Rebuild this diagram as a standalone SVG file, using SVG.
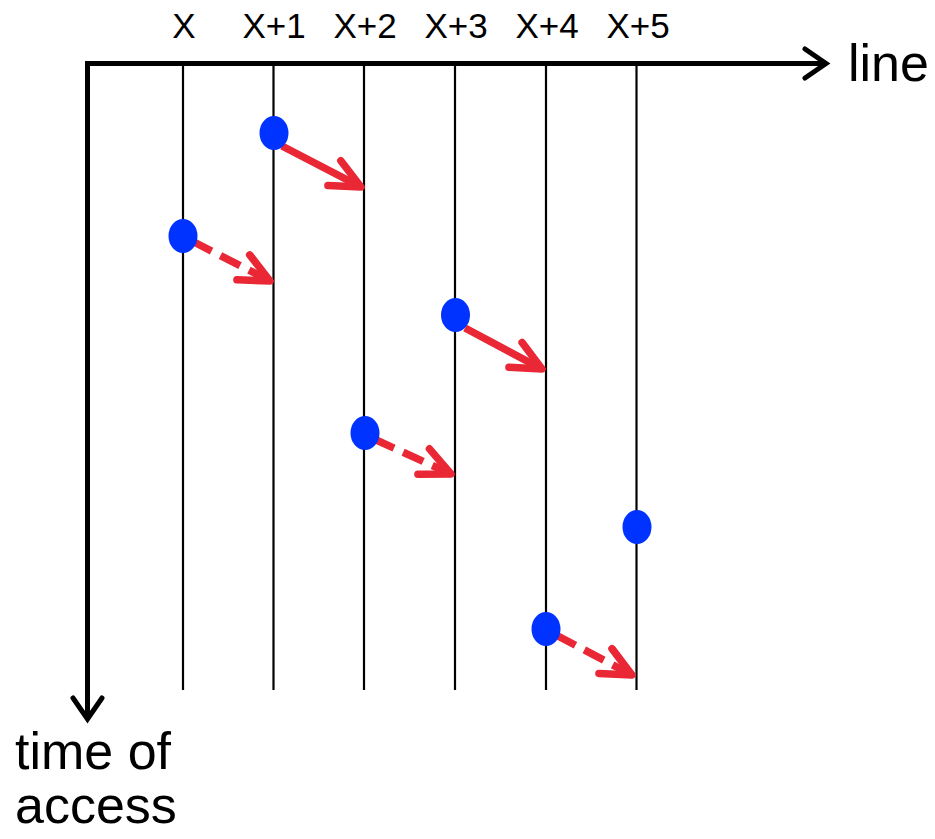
<svg xmlns="http://www.w3.org/2000/svg" width="935" height="839" viewBox="0 0 935 839">
  <style>
    .lbl { font-family: "Liberation Sans", Arial, sans-serif; fill: #000; }
    .col { font-size: 35px; text-anchor: middle; }
    .big { font-size: 52px; }
    .grid { stroke: #000; stroke-width: 2.2; fill: none; }
    .axis { stroke: #000; stroke-width: 5; fill: none; }
    .dot { fill: #0033ff; }
    .arr { stroke: #e92735; stroke-width: 7.5; fill: none; marker-end: url(#redhead); }
    .dash { stroke-dasharray: 22 10; }
  </style>
  <defs>
    <marker id="redhead" markerUnits="userSpaceOnUse" refX="0" refY="0" markerWidth="60" markerHeight="60" orient="auto" overflow="visible">
      <path d="M-30,-14 L0,0 L-30,14" fill="none" stroke="#e92735" stroke-width="7.5" stroke-linecap="round" stroke-linejoin="round" stroke-dasharray="none"/>
    </marker>
    <marker id="axhead" markerUnits="userSpaceOnUse" refX="0" refY="0" markerWidth="60" markerHeight="60" orient="auto" overflow="visible">
      <path d="M-21,-14.5 L0,0 L-21,14.5" fill="none" stroke="#000" stroke-width="5" stroke-linecap="round" stroke-linejoin="miter" stroke-dasharray="none"/>
    </marker>
  </defs>

  <g id="axes">
    <line class="axis" x1="85" y1="63.5" x2="826" y2="63.5" marker-end="url(#axhead)"/>
    <line class="axis" x1="87.5" y1="61" x2="87.5" y2="719" marker-end="url(#axhead)"/>
    <text class="lbl big" x="848" y="81">line</text>
    <text class="lbl big" x="15" y="769">time of</text>
    <text class="lbl big" x="15" y="823">access</text>
  </g>

  <g id="col-X"><line class="grid" x1="183" y1="64" x2="183" y2="690"/><text class="lbl col" x="184" y="38">X</text></g>
  <g id="col-X1"><line class="grid" x1="273.5" y1="64" x2="273.5" y2="690"/><text class="lbl col" x="274" y="38">X+1</text></g>
  <g id="col-X2"><line class="grid" x1="364" y1="64" x2="364" y2="690"/><text class="lbl col" x="365" y="38">X+2</text></g>
  <g id="col-X3"><line class="grid" x1="455" y1="64" x2="455" y2="690"/><text class="lbl col" x="456" y="38">X+3</text></g>
  <g id="col-X4"><line class="grid" x1="546" y1="64" x2="546" y2="690"/><text class="lbl col" x="547" y="38">X+4</text></g>
  <g id="col-X5"><line class="grid" x1="636.5" y1="64" x2="636.5" y2="690"/><text class="lbl col" x="638" y="38">X+5</text></g>

  <g id="connectors">
    <line class="arr" x1="282" y1="146" x2="361" y2="187"/>
    <line class="arr dash" x1="192" y1="241" x2="270" y2="281"/>
    <line class="arr" x1="465" y1="328" x2="542" y2="369"/>
    <line class="arr dash" x1="374" y1="439" x2="451" y2="474"/>
    <line class="arr dash" x1="556" y1="635" x2="632" y2="675"/>
  </g>

  <g id="dot1"><ellipse class="dot" cx="274" cy="133" rx="14.5" ry="17"/></g>
  <g id="dot2"><ellipse class="dot" cx="183" cy="236" rx="14.5" ry="17"/></g>
  <g id="dot3"><ellipse class="dot" cx="455.5" cy="315" rx="14.5" ry="17"/></g>
  <g id="dot4"><ellipse class="dot" cx="365" cy="433" rx="14.5" ry="17"/></g>
  <g id="dot5"><ellipse class="dot" cx="637" cy="527" rx="14.5" ry="17"/></g>
  <g id="dot6"><ellipse class="dot" cx="546" cy="629" rx="14.5" ry="17"/></g>
</svg>
